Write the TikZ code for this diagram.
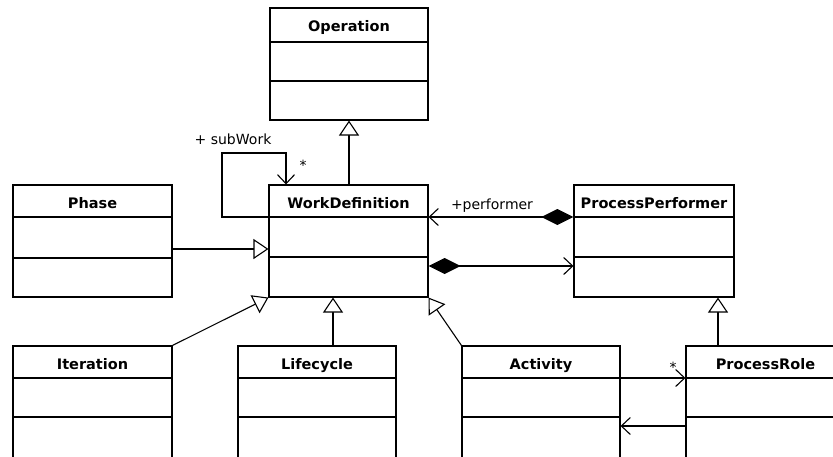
\documentclass[tikz,border=0pt]{standalone}
\usepackage{fontspec}
\setmainfont{DejaVu Sans}
\usetikzlibrary{arrows.meta,fit,calc}
\begin{document}
\begin{tikzpicture}[x=1pt,y=-1pt,
  classbox/.style={draw, line width=1.1pt, inner sep=0pt},
  ctitle/.style={font=\bfseries\fontsize{14.5}{16}\selectfont, inner sep=0pt, anchor=base},
  lbl/.style={font=\fontsize{14}{16}\selectfont, inner sep=0pt, anchor=base},
  conn/.style={line width=1.1pt},
  gen/.style={conn, -{Triangle[open,length=15pt,width=20pt,fill=white]}},
  nav/.style={conn, -{Straight Barb[length=9pt,width=17pt]}},
  comp/.style={conn, {Diamond[length=32pt,width=16pt]}-{Straight Barb[length=9pt,width=17pt]}}]
\useasboundingbox (0,0) rectangle (833,456);
\clip (0,0) rectangle (833,456);
% classes
\node[classbox, fit={(270,8) (428,120)}] (op) {};
\draw[conn] (op.west |- 0,42) -- (op.east |- 0,42);
\draw[conn] (op.west |- 0,81) -- (op.east |- 0,81);
\node[ctitle] (opt) at (349,31) {Operation};

\node[classbox, fit={(269,185) (428,297)}] (wd) {};
\draw[conn] (wd.west |- 0,217) -- (wd.east |- 0,217);
\draw[conn] (wd.west |- 0,257) -- (wd.east |- 0,257);
\node[ctitle] (wdt) at (348.5,208) {WorkDefinition};

\node[classbox, fit={(13,185) (172,297)}] (ph) {};
\draw[conn] (ph.west |- 0,217) -- (ph.east |- 0,217);
\draw[conn] (ph.west |- 0,258) -- (ph.east |- 0,258);
\node[ctitle] (pht) at (92.5,208) {Phase};

\node[classbox, fit={(574,185) (734,297)}] (pp) {};
\draw[conn] (pp.west |- 0,217) -- (pp.east |- 0,217);
\draw[conn] (pp.west |- 0,257) -- (pp.east |- 0,257);
\node[ctitle] (ppt) at (654,208) {ProcessPerformer};

\node[classbox, fit={(13,346) (172,470)}] (it) {};
\draw[conn] (it.west |- 0,378) -- (it.east |- 0,378);
\draw[conn] (it.west |- 0,417) -- (it.east |- 0,417);
\node[ctitle] (itt) at (92.5,369) {Iteration};

\node[classbox, fit={(238,346) (396,470)}] (lc) {};
\draw[conn] (lc.west |- 0,378) -- (lc.east |- 0,378);
\draw[conn] (lc.west |- 0,417) -- (lc.east |- 0,417);
\node[ctitle] (lct) at (317,369) {Lifecycle};

\node[classbox, fit={(462,346) (620,470)}] (ac) {};
\draw[conn] (ac.west |- 0,378) -- (ac.east |- 0,378);
\draw[conn] (ac.west |- 0,417) -- (ac.east |- 0,417);
\node[ctitle] (act) at (541,369) {Activity};

\node[classbox, fit={(686,346) (845,470)}] (pr) {};
\draw[conn] (pr.west |- 0,378) -- (pr.east |- 0,378);
\draw[conn] (pr.west |- 0,417) -- (pr.east |- 0,417);
\node[ctitle] (prt) at (765.5,369) {ProcessRole};

% generalizations
\draw[gen] (wd.north -| 349,0) -- (op.south -| 349,0);
\draw[gen] (ph.east |- 0,249) -- (wd.west |- 0,249);
\draw[gen] (it.north east) -- (wd.south west);
\draw[gen] (lc.north -| 333,0) -- (wd.south -| 333,0);
\draw[gen] (ac.north west) -- (wd.south east);
\draw[gen] (pr.north -| 718,0) -- (pp.south -| 718,0);

% associations
\draw[comp] (pp.west |- 0,217) -- (wd.east |- 0,217);
\draw[comp] (wd.east |- 0,266) -- (pp.west |- 0,266);
\draw[nav] (ac.east |- 0,378) -- (pr.west |- 0,378);
\draw[nav] (pr.west |- 0,426) -- (ac.east |- 0,426);
\coordinate (l1) at (222,217);
\coordinate (l2) at (222,153);
\coordinate (l3) at (286,153);
\draw[nav] (wd.west |- l1) -- (l1) -- (l2) -- (l3) -- (wd.north -| l3);

% labels
\node[lbl] (sw) at (233,144) {+ subWork};
\node[lbl] (st1) at (303,170) {*};
\node[lbl] (pf) at (492,209) {+performer};
\node[lbl] (st2) at (673,372) {*};
\end{tikzpicture}
\end{document}
